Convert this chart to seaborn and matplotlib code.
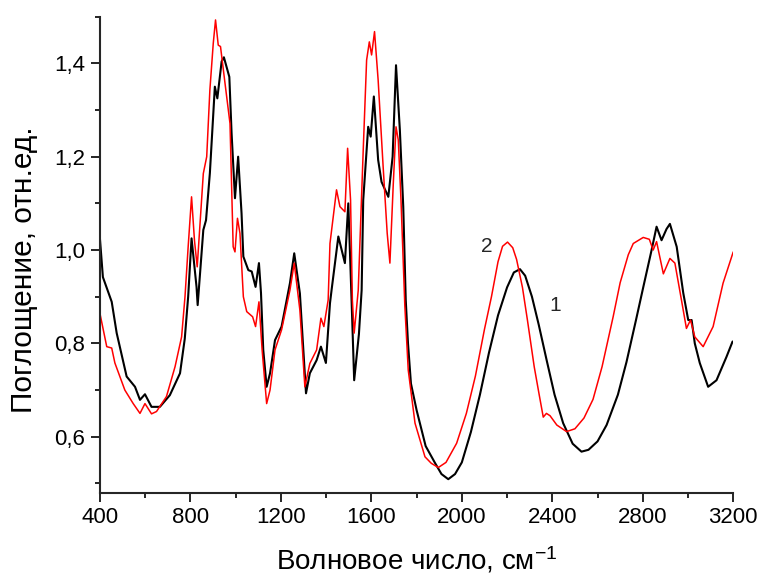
import matplotlib
matplotlib.use("Agg")
import matplotlib.pyplot as plt
import numpy as np
import pandas as pd
import seaborn as sns
from matplotlib.ticker import FuncFormatter, MultipleLocator

# Curve 1 (black)
wn_1 = [400, 413, 452, 474, 518, 555, 577, 599, 628, 665, 709, 754, 775, 790,
        805, 827, 832, 857, 869, 886, 908, 919, 938, 948, 972, 982, 997, 1011,
        1026, 1034, 1056, 1071, 1088, 1103, 1112, 1122, 1137, 1152, 1174, 1203,
        1240, 1259, 1284, 1311, 1328, 1358, 1377, 1399, 1417, 1424, 1454, 1483,
        1498, 1512, 1524, 1545, 1557, 1564, 1586, 1597, 1611, 1630, 1645, 1675,
        1694, 1709, 1726, 1741, 1752, 1762, 1775, 1800, 1840, 1880, 1910, 1940,
        1970, 2000, 2040, 2080, 2120, 2160, 2200, 2230, 2257, 2280, 2310, 2340,
        2375, 2410, 2448, 2490, 2529, 2560, 2600, 2640, 2690, 2728, 2770, 2802,
        2839, 2861, 2883, 2905, 2920, 2950, 2979, 3001, 3016, 3030, 3052, 3089,
        3126, 3170, 3197]
abs_1 = [1.024, 0.942, 0.889, 0.822, 0.729, 0.707, 0.679, 0.691, 0.664, 0.664,
         0.689, 0.736, 0.81, 0.90, 1.025, 0.921, 0.882, 1.043, 1.064, 1.165,
         1.35, 1.325, 1.404, 1.413, 1.371, 1.25, 1.111, 1.20, 1.079, 0.986,
         0.957, 0.954, 0.921, 0.972, 0.908, 0.786, 0.707, 0.736, 0.807, 0.836,
         0.929, 0.993, 0.907, 0.693, 0.736, 0.764, 0.793, 0.758, 0.886, 0.914,
         1.029, 0.972, 1.10, 0.90, 0.721, 0.82, 0.914, 1.107, 1.264, 1.243,
         1.329, 1.193, 1.146, 1.114, 1.20, 1.396, 1.257, 1.093, 0.893, 0.80,
         0.714, 0.657, 0.58, 0.545, 0.52, 0.509, 0.52, 0.545, 0.61, 0.69,
         0.78, 0.86, 0.92, 0.952, 0.959, 0.945, 0.90, 0.84, 0.764, 0.69,
         0.629, 0.585, 0.568, 0.572, 0.59, 0.625, 0.69, 0.76, 0.85, 0.92,
         1.0, 1.050, 1.021, 1.045, 1.056, 1.007, 0.908, 0.850, 0.85, 0.80,
         0.758, 0.707, 0.721, 0.771, 0.804]

# Curve 2 (red)
wn_2 = [400, 430, 452, 466, 510, 547, 577, 599, 628, 650, 694, 732, 761, 776,
        790, 805, 818, 830, 857, 872, 886, 901, 911, 923, 933, 953, 975, 989,
        997, 1008, 1019, 1034, 1049, 1075, 1088, 1103, 1117, 1137, 1152, 1174,
        1203, 1240, 1259, 1284, 1306, 1328, 1358, 1377, 1390, 1409, 1417, 1446,
        1461, 1483, 1495, 1508, 1516, 1524, 1542, 1564, 1579, 1591, 1601, 1614,
        1630, 1652, 1670, 1682, 1697, 1709, 1719, 1731, 1748, 1763, 1793, 1837,
        1865, 1896, 1930, 1977, 2020, 2060, 2100, 2131, 2160, 2180, 2202, 2225,
        2242, 2268, 2290, 2320, 2342, 2360, 2374, 2390, 2420, 2463, 2500, 2540,
        2580, 2620, 2669, 2700, 2736, 2758, 2802, 2829, 2846, 2861, 2891, 2920,
        2942, 2971, 2993, 3011, 3030, 3067, 3111, 3155, 3200]
abs_2 = [0.864, 0.793, 0.79, 0.758, 0.70, 0.671, 0.650, 0.671, 0.649, 0.654,
         0.686, 0.75, 0.814, 0.90, 1.007, 1.114, 1.02, 0.964, 1.164, 1.20,
         1.343, 1.443, 1.493, 1.439, 1.436, 1.357, 1.271, 1.007, 0.996, 1.068,
         1.036, 0.90, 0.868, 0.857, 0.836, 0.889, 0.786, 0.671, 0.70, 0.786,
         0.829, 0.914, 0.972, 0.871, 0.707, 0.757, 0.786, 0.854, 0.836, 0.893,
         1.014, 1.129, 1.093, 1.082, 1.218, 1.107, 0.893, 0.822, 0.914, 1.214,
         1.407, 1.446, 1.418, 1.468, 1.364, 1.179, 1.036, 0.972, 1.143, 1.264,
         1.236, 1.107, 0.88, 0.743, 0.629, 0.557, 0.543, 0.534, 0.545, 0.586,
         0.65, 0.73, 0.83, 0.90, 0.975, 1.008, 1.017, 1.005, 0.98, 0.92,
         0.85, 0.75, 0.69, 0.642, 0.65, 0.645, 0.625, 0.611, 0.617, 0.64,
         0.68, 0.75, 0.857, 0.93, 0.99, 1.014, 1.027, 1.023, 1.0, 1.018,
         0.949, 0.982, 0.972, 0.893, 0.832, 0.85, 0.814, 0.793, 0.836, 0.929,
         0.996]

curve_labels = ["1", "2"]

sns.set_style("ticks")
plt.rcParams["font.family"] = ["Liberation Sans", "DejaVu Sans"]
plt.rcParams["mathtext.default"] = "regular"

df = pd.concat([
    pd.DataFrame({"wn": wn_1, "A": abs_1, "curve": "1"}),
    pd.DataFrame({"wn": wn_2, "A": abs_2, "curve": "2"}),
], ignore_index=True)

fig = plt.figure(figsize=(7.63, 5.87), dpi=100)
ax = fig.add_axes([0.131, 0.1606, 0.830, 0.811])

sns.lineplot(data=df, x="wn", y="A", hue="curve", estimator=None, sort=False,
             palette={"1": "#000000", "2": "#ff0000"}, legend=False, ax=ax)
for line, lw in zip(ax.get_lines(), [1.5, 1.1]):
    line.set_linewidth(lw)

ax.set_xlim(400, 3200)
ax.set_ylim(0.48, 1.50)
ax.xaxis.set_major_locator(MultipleLocator(400))
ax.xaxis.set_minor_locator(MultipleLocator(200))
ax.yaxis.set_major_locator(MultipleLocator(0.2))
ax.yaxis.set_minor_locator(MultipleLocator(0.1))
ax.yaxis.set_major_formatter(FuncFormatter(lambda v, p: f"{v:.1f}".replace(".", ",")))
ax.xaxis.set_major_formatter(FuncFormatter(lambda v, p: f"{v:.0f}"))

sns.despine(ax=ax)
for s in ["left", "bottom"]:
    ax.spines[s].set_linewidth(1.5)
ax.tick_params(which="major", direction="out", length=6.5, width=1.2,
               labelsize=16, pad=4, color="black", labelcolor="black")
ax.tick_params(which="minor", direction="out", length=3.8, width=1.2, color="black")

ax.set_xlabel("Волновое число, см$^{-1}$", fontsize=20, color="black")
ax.set_ylabel("Поглощение, отн.ед.", fontsize=21.5, color="black")
ax.xaxis.set_label_coords(0.5, -0.11)
ax.yaxis.set_label_coords(-0.098, 0.468)
ax.xaxis.label.set_va("top")

# curve numbers
ax.text(2112, 1.007, curve_labels[1], fontsize=15, ha="center", va="center")
ax.text(2411, 0.882, curve_labels[0], fontsize=15, ha="center", va="center")

fig.savefig("out.png", dpi=100)
